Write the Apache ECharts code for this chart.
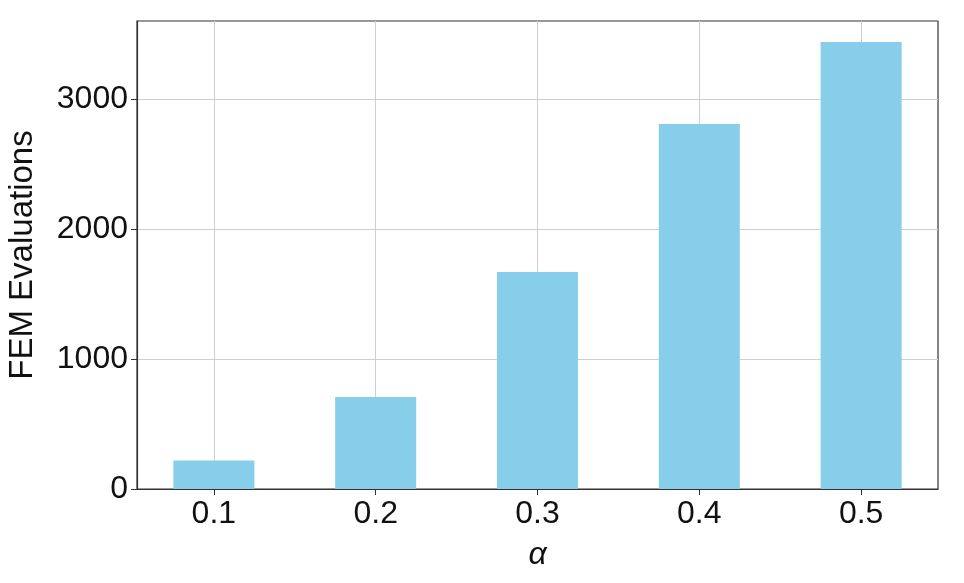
<!DOCTYPE html>
<html>
<head>
<meta charset="utf-8">
<script src="https://cdn.jsdelivr.net/npm/echarts@6/dist/echarts.min.js"></script>
<style>
  html, body { margin: 0; padding: 0; background: #fff; }
  #chart { width: 964px; height: 583px; }
</style>
</head>
<body>
<div id="chart"></div>
<script>
// data
const alphas = ['0.1', '0.2', '0.3', '0.4', '0.5'];
const femEvaluations = [220, 708, 1669, 2808, 3438];
const yTicks = [0, 1000, 2000, 3000];

const chart = echarts.init(document.getElementById('chart'));
const font = 'Liberation Sans, Arial, sans-serif';
const positions = alphas.map((a, i) => i);

chart.setOption({
  animation: false,
  grid: {
    left: 137, right: 26, top: 21, bottom: 94,
    outerBoundsMode: 'none',
    containLabel: false,
    show: true, borderColor: '#333', borderWidth: 1.2
  },
  xAxis: {
    type: 'value',
    min: -0.475,
    max: 4.475,
    name: 'α',
    nameLocation: 'middle',
    nameGap: 50,
    nameTextStyle: { fontFamily: font, fontStyle: 'italic', fontSize: 32, color: '#111' },
    axisLine: { show: true, onZero: false, lineStyle: { color: '#333', width: 1.2 } },
    axisTick: { show: true, length: 6, customValues: positions, lineStyle: { color: '#333' } },
    axisLabel: {
      customValues: positions,
      margin: 9,
      fontFamily: font, fontSize: 32, color: '#111',
      formatter: v => alphas[Math.round(v)]
    },
    splitLine: { show: true, lineStyle: { color: '#cfcfcf', width: 1 } }
  },
  yAxis: {
    type: 'value',
    min: 0,
    max: 3600,
    name: 'FEM Evaluations',
    nameLocation: 'middle',
    nameGap: 98,
    nameTextStyle: { fontFamily: font, fontSize: 33, color: '#111' },
    axisLine: { show: true, onZero: false, lineStyle: { color: '#333', width: 1.2 } },
    axisTick: { show: true, length: 6, customValues: yTicks, lineStyle: { color: '#333' } },
    axisLabel: {
      customValues: yTicks,
      margin: 9,
      fontFamily: font, fontSize: 32, color: '#111',
      formatter: v => String(v)
    },
    splitLine: { show: true, lineStyle: { color: '#cfcfcf', width: 1 } }
  },
  series: [{
    type: 'bar',
    data: femEvaluations.map((v, i) => [positions[i], v]),
    barWidth: 81,
    itemStyle: { color: '#87CEEB' }
  }]
});
</script>
</body>
</html>
